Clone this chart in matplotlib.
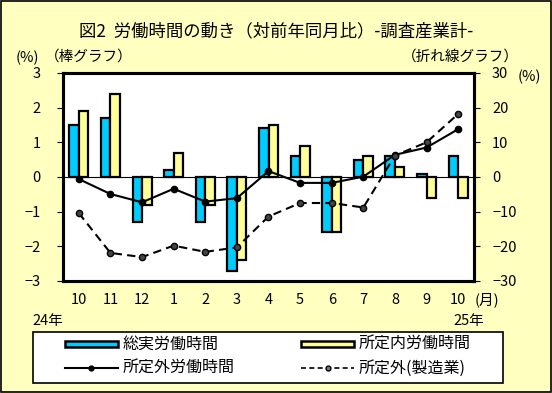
import matplotlib
matplotlib.use("Agg")
import matplotlib.pyplot as plt
import numpy as np
from matplotlib.patches import Rectangle
from matplotlib.lines import Line2D

plt.rcParams['font.family'] = ['Noto Sans CJK JP', 'DejaVu Sans']

months = ["10", "11", "12", "1", "2", "3", "4", "5", "6", "7", "8", "9", "10"]
total_hours = [1.5, 1.7, -1.3, 0.2, -1.3, -2.7, 1.4, 0.6, -1.6, 0.5, 0.6, 0.1, 0.6]
scheduled_hours = [1.9, 2.4, -0.8, 0.7, -0.8, -2.4, 1.5, 0.9, -1.6, 0.6, 0.3, -0.6, -0.6]
overtime = [-0.6, -4.9, -7.3, -3.4, -7.1, -6.1, 1.7, -1.7, -1.7, 0.1, 6.4, 8.5, 13.8]
overtime_mfg = [-10.4, -21.9, -23.1, -19.8, -21.6, -20.3, -11.4, -7.5, -7.5, -8.8, 6.2, 10.0, 18.2]
left_ticks = [-3, -2, -1, 0, 1, 2, 3]
right_ticks = [-30, -20, -10, 0, 10, 20, 30]
legend_labels = ["総実労働時間", "所定内労働時間", "所定外労働時間", "所定外(製造業)"]

BG = "#FFFFC0"
BLUE = "#00CCFF"
YEL = "#FFFF99"

W, H = 552, 393
fig = plt.figure(figsize=(W / 100, H / 100), dpi=100)
fig.patch.set_facecolor(BG)
fig.add_artist(Rectangle((0.002, 0.002), 0.996, 0.995, transform=fig.transFigure,
                         fill=False, edgecolor="black", linewidth=1.2))

def fx(px):
    return px / W

def fy(py):
    return 1 - py / H

FS = 10.5

ax = fig.add_axes([fx(63), fy(281), fx(474) - fx(63), fy(73) - fy(281)])
ax.set_facecolor("white")
x = np.arange(len(months))
bw = 0.3
ax.bar(x - bw / 2, total_hours, bw, color=BLUE, edgecolor="black", linewidth=1.6, zorder=2)
ax.bar(x + bw / 2, scheduled_hours, bw, color=YEL, edgecolor="black", linewidth=1.6, zorder=2)
ax.axhline(0, color="black", linewidth=0.8, zorder=1)
ax.set_ylim(-3, 3)
ax.set_xlim(-0.5, len(months) - 0.5)
ax.set_yticks(left_ticks)
ax.set_yticklabels([str(v) if v >= 0 else "\u2212" + str(-v) for v in left_ticks], fontsize=FS)
ax.tick_params(axis='y', direction='out', length=4, width=0.8, pad=12)
ax.set_xticks(x)
ax.set_xticklabels(months, fontsize=FS)
ax.tick_params(axis='x', length=0, pad=9)
for s in ax.spines.values():
    s.set_linewidth(2.2)

ax2 = ax.twinx()
ax2.plot(x, overtime, color="black", linewidth=1.5, marker="o", markersize=4.5, zorder=3)
ax2.plot(x, overtime_mfg, color="black", linewidth=1.5, linestyle=(0, (4, 2.5)), marker="o",
         markersize=4.5, markerfacecolor="#444444", zorder=3)
ax2.set_ylim(-30, 30)
ax2.set_yticks(right_ticks)
ax2.set_yticklabels([str(v) if v >= 0 else "\u2212" + str(-v) for v in right_ticks],
                    fontsize=FS, style="italic")
ax2.tick_params(axis='y', direction='out', length=4, width=0.8, pad=9)
for s in ax2.spines.values():
    s.set_linewidth(2.2)

fig.text(fx(276), fy(31), "図2  労働時間の動き（対前年同月比）-調査産業計-", fontsize=12.5,
         ha="center", va="center")
fig.text(fx(27), fy(58), "(%)", fontsize=FS, ha="center", va="center")
fig.text(fx(89), fy(57), "（棒グラフ）", fontsize=FS, ha="center", va="center")
fig.text(fx(460), fy(57), "（折れ線グラフ）", fontsize=FS, ha="center", va="center")
fig.text(fx(529), fy(77), "(%)", fontsize=FS, ha="center", va="center")
fig.text(fx(48), fy(321), "24年", fontsize=FS, ha="center", va="center")
fig.text(fx(469), fy(321), "25年", fontsize=FS, ha="center", va="center")
fig.text(fx(487), fy(300), "(月)", fontsize=FS, ha="center", va="center")

# legend box drawn manually
fig.add_artist(Rectangle((fx(33), fy(383)), fx(503) - fx(33), fy(332) - fy(383),
                         transform=fig.transFigure, facecolor="white", edgecolor="black",
                         linewidth=1.2))
row_y = [344, 368]
col_x = [65, 301]
hw = 53
LFS = 11.5
for (cx, color, lab) in [(col_x[0], BLUE, legend_labels[0]), (col_x[1], YEL, legend_labels[1])]:
    fig.add_artist(Rectangle((fx(cx), fy(row_y[0] + 3)), fx(hw), fy(row_y[0] - 3) - fy(row_y[0] + 3),
                             transform=fig.transFigure, facecolor=color, edgecolor="black",
                             linewidth=1.8))
    fig.text(fx(cx + hw + 5), fy(row_y[0]), lab, fontsize=LFS, ha="left", va="center")
fig.add_artist(Line2D([fx(col_x[0]), fx(col_x[0] + hw)], [fy(row_y[1])] * 2,
                      transform=fig.transFigure, color="black", linewidth=1.5))
fig.add_artist(Line2D([fx(col_x[0] + hw / 2)], [fy(row_y[1])], transform=fig.transFigure,
                      color="black", marker="o", markersize=3.5))
fig.text(fx(col_x[0] + hw + 5), fy(row_y[1]), legend_labels[2], fontsize=LFS, ha="left", va="center")
fig.add_artist(Line2D([fx(col_x[1]), fx(col_x[1] + hw)], [fy(row_y[1])] * 2,
                      transform=fig.transFigure, color="black", linewidth=1.2,
                      linestyle=(0, (3, 2))))
fig.add_artist(Line2D([fx(col_x[1] + hw / 2)], [fy(row_y[1])], transform=fig.transFigure,
                      color="black", marker="o", markersize=3.5, markerfacecolor="#777777"))
fig.text(fx(col_x[1] + hw + 5), fy(row_y[1]), legend_labels[3], fontsize=LFS, ha="left", va="center")

fig.savefig("out.png", dpi=100, facecolor=BG)
